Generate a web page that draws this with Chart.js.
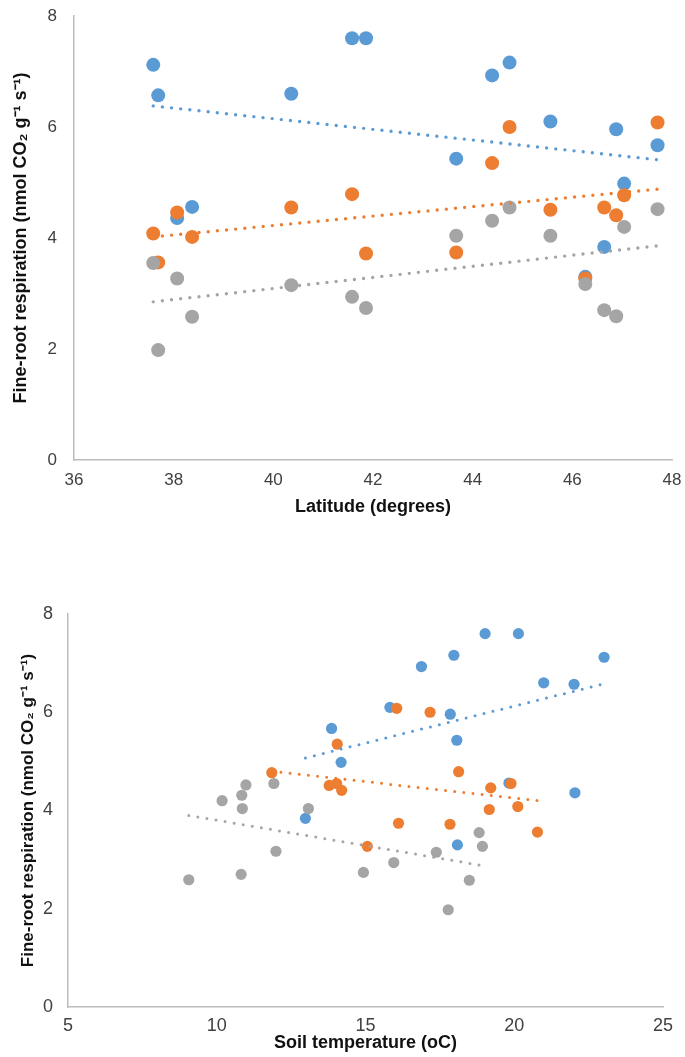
<!DOCTYPE html>
<html>
<head>
<meta charset="utf-8">
<script src="https://cdn.jsdelivr.net/npm/chart.js@4.4.1/dist/chart.umd.min.js"></script>
<style>
  body { margin: 0; background: #fff; width: 685px; height: 1057px; position: relative; overflow: hidden; }
  canvas { position: absolute; left: 0; }
  #latChart { top: 0; }
  #tempChart { top: 560px; }
</style>
</head>
<body>
<canvas id="latChart" width="685" height="540"></canvas>
<canvas id="tempChart" width="685" height="497"></canvas>
<script>
// sites (same 16 sites in every series)
const latitude = [37.59, 37.69, 38.07, 38.37, 40.36, 41.58, 41.86, 43.67, 44.39, 44.74, 45.56, 46.26, 46.64, 46.88, 47.04, 47.71];

// fine-root respiration per site
const respBlue   = [7.12, 6.57, 4.36, 4.56, 6.60, 7.60, 7.60, 5.43, 6.93, 7.16, 6.10, 3.30, 3.84, 5.96, 4.98, 5.67];
const respOrange = [4.08, 3.56, 4.46, 4.02, 4.55, 4.79, 3.72, 3.74, 5.35, 6.00, 4.51, 3.27, 4.55, 4.41, 4.77, 6.08];
const respGray   = [3.55, 1.98, 3.27, 2.58, 3.15, 2.94, 2.74, 4.04, 4.31, 4.55, 4.04, 3.17, 2.70, 2.59, 4.20, 4.52];

// soil temperature per site
const tempBlue   = [23.02, 22.01, 22.04, 19.82, 20.99, 20.14, 19.02, 18.07, 16.88, 17.97, 15.82, 18.09, 12.98, 17.85, 14.18, 13.86];
const tempOrange = [20.12, 20.78, 19.21, 19.16, 19.89, 18.13, 17.84, 16.11, 14.05, 17.17, 13.78, 15.06, 14.03, 14.20, 11.85, 16.05];
const tempGray   = [18.82, 17.78, 18.93, 18.49, 17.38, 15.95, 14.93, 13.08, 10.84, 11.92, 10.86, 11.99, 10.82, 9.06, 10.18, 10.98];

// linear trendlines, [x, y] at each end
const latTrendBlue   = [[37.59, 6.38], [47.71, 5.41]];
const latTrendOrange = [[37.59, 4.02], [47.71, 4.88]];
const latTrendGray   = [[37.59, 2.85], [47.71, 3.86]];
const tempTrendBlue   = [[12.98, 5.07], [23.02, 6.58]];
const tempTrendOrange = [[11.85, 4.80], [20.78, 4.20]];
const tempTrendGray   = [[9.06, 3.90], [18.93, 2.88]];

const latTicks = [36, 38, 40, 42, 44, 46, 48];
const tempTicks = [5, 10, 15, 20, 25];
const respTicks = [0, 2, 4, 6, 8];

const BLUE = '#5b9bd5', ORANGE = '#ed7d31', GRAY = '#a5a5a5';
const Y_TITLE = 'Fine-root respiration (nmol CO\u2082 g\u207B\u00B9 s\u207B\u00B9)';

function pts(xs, ys) {
    return xs.map((x, i) => ({ x: x, y: ys[i] }));
}
function ends(arr) {
    return arr.map(p => ({ x: p[0], y: p[1] }));
}

function scatter(data, color, r, order) {
    return { type: 'scatter', data: data, backgroundColor: color, borderWidth: 0,
             pointRadius: r, order: order };
}
function trend(data, color, w, order) {
    return { type: 'line', data: data, borderColor: color, borderWidth: w,
             borderDash: [0, 9.2], borderCapStyle: 'round', pointRadius: 0,
             fill: false, order: order };
}

function buildChart(id, opt) {
    const ctx = document.getElementById(id).getContext('2d');
    return new Chart(ctx, {
        type: 'scatter',
        data: { datasets: opt.datasets },
        options: {
            responsive: false,
            animation: false,
            events: [],
            layout: { padding: opt.padding },
            plugins: { legend: { display: false }, tooltip: { enabled: false } },
            scales: {
                x: {
                    type: 'linear', min: opt.xTicks[0], max: opt.xTicks[opt.xTicks.length - 1],
                    afterBuildTicks: s => { s.ticks = opt.xTicks.map(v => ({ value: v })); },
                    afterFit: s => { s.height = opt.xHeight; s.paddingLeft = 0; s.paddingRight = 0; },
                    grid: { display: false, drawTicks: false },
                    border: { display: true, color: '#bcbcbc', width: 1.5 },
                    ticks: { color: '#404040', padding: opt.xTickPad, font: opt.tickFont, maxRotation: 0 },
                    title: { display: true, text: opt.xTitle, color: '#111', font: opt.xTitleFont,
                             padding: { top: 0, bottom: opt.xTitlePad } }
                },
                y: {
                    type: 'linear', min: 0, max: 8,
                    afterBuildTicks: s => { s.ticks = respTicks.map(v => ({ value: v })); },
                    afterFit: s => { s.width = opt.yWidth; s.paddingTop = 0; s.paddingBottom = 0; },
                    grid: { display: false, drawTicks: false },
                    border: { display: true, color: '#bcbcbc', width: 1.5 },
                    ticks: { color: '#404040', padding: opt.yTickPad, font: opt.tickFont },
                    title: { display: true, text: Y_TITLE, color: '#111', font: opt.yTitleFont,
                             padding: { top: opt.yTitlePad, bottom: 0 } }
                }
            }
        }
    });
}

// Latitude chart
buildChart('latChart', {
    datasets: [
        trend(ends(latTrendGray), GRAY, 3.4, 0),
        trend(ends(latTrendOrange), ORANGE, 3.4, 1),
        trend(ends(latTrendBlue), BLUE, 3.4, 2),
        scatter(pts(latitude, respGray), GRAY, 7, 3),
        scatter(pts(latitude, respOrange), ORANGE, 7, 4),
        scatter(pts(latitude, respBlue), BLUE, 7, 5)
    ],
    padding: { left: 0, top: 16, right: 13, bottom: 0 },
    xTicks: latTicks,
    xHeight: 80,
    xTickPad: 10,
    yWidth: 74,
    yTickPad: 17,
    tickFont: { family: "'Liberation Sans', Arial, sans-serif", size: 17 },
    xTitle: 'Latitude (degrees)',
    xTitleFont: { family: "'Liberation Sans', Arial, sans-serif", size: 18, weight: 'bold' },
    xTitlePad: 22,
    yTitleFont: { family: "'Liberation Sans', Arial, sans-serif", size: 18, weight: 'bold' },
    yTitlePad: 10
});

// Soil temperature chart
const narrow = "'Liberation Sans Narrow', 'Arial Narrow', 'Liberation Sans', sans-serif";
buildChart('tempChart', {
    datasets: [
        trend(ends(tempTrendGray), GRAY, 3, 0),
        trend(ends(tempTrendOrange), ORANGE, 3, 1),
        trend(ends(tempTrendBlue), BLUE, 3, 2),
        scatter(pts(tempGray, respGray), GRAY, 5.6, 3),
        scatter(pts(tempOrange, respOrange), ORANGE, 5.6, 4),
        scatter(pts(tempBlue, respBlue), BLUE, 5.6, 5)
    ],
    padding: { left: 0, top: 54, right: 22, bottom: 0 },
    xTicks: tempTicks,
    xHeight: 50,
    xTickPad: 8,
    yWidth: 68,
    yTickPad: 15,
    tickFont: { family: narrow, size: 18 },
    xTitle: 'Soil temperature (oC)',
    xTitleFont: { family: narrow, size: 18, weight: 'bold' },
    xTitlePad: 3,
    yTitleFont: { family: "'Liberation Sans', Arial, sans-serif", size: 17, weight: 'bold' },
    yTitlePad: 18
});
</script>
</body>
</html>
